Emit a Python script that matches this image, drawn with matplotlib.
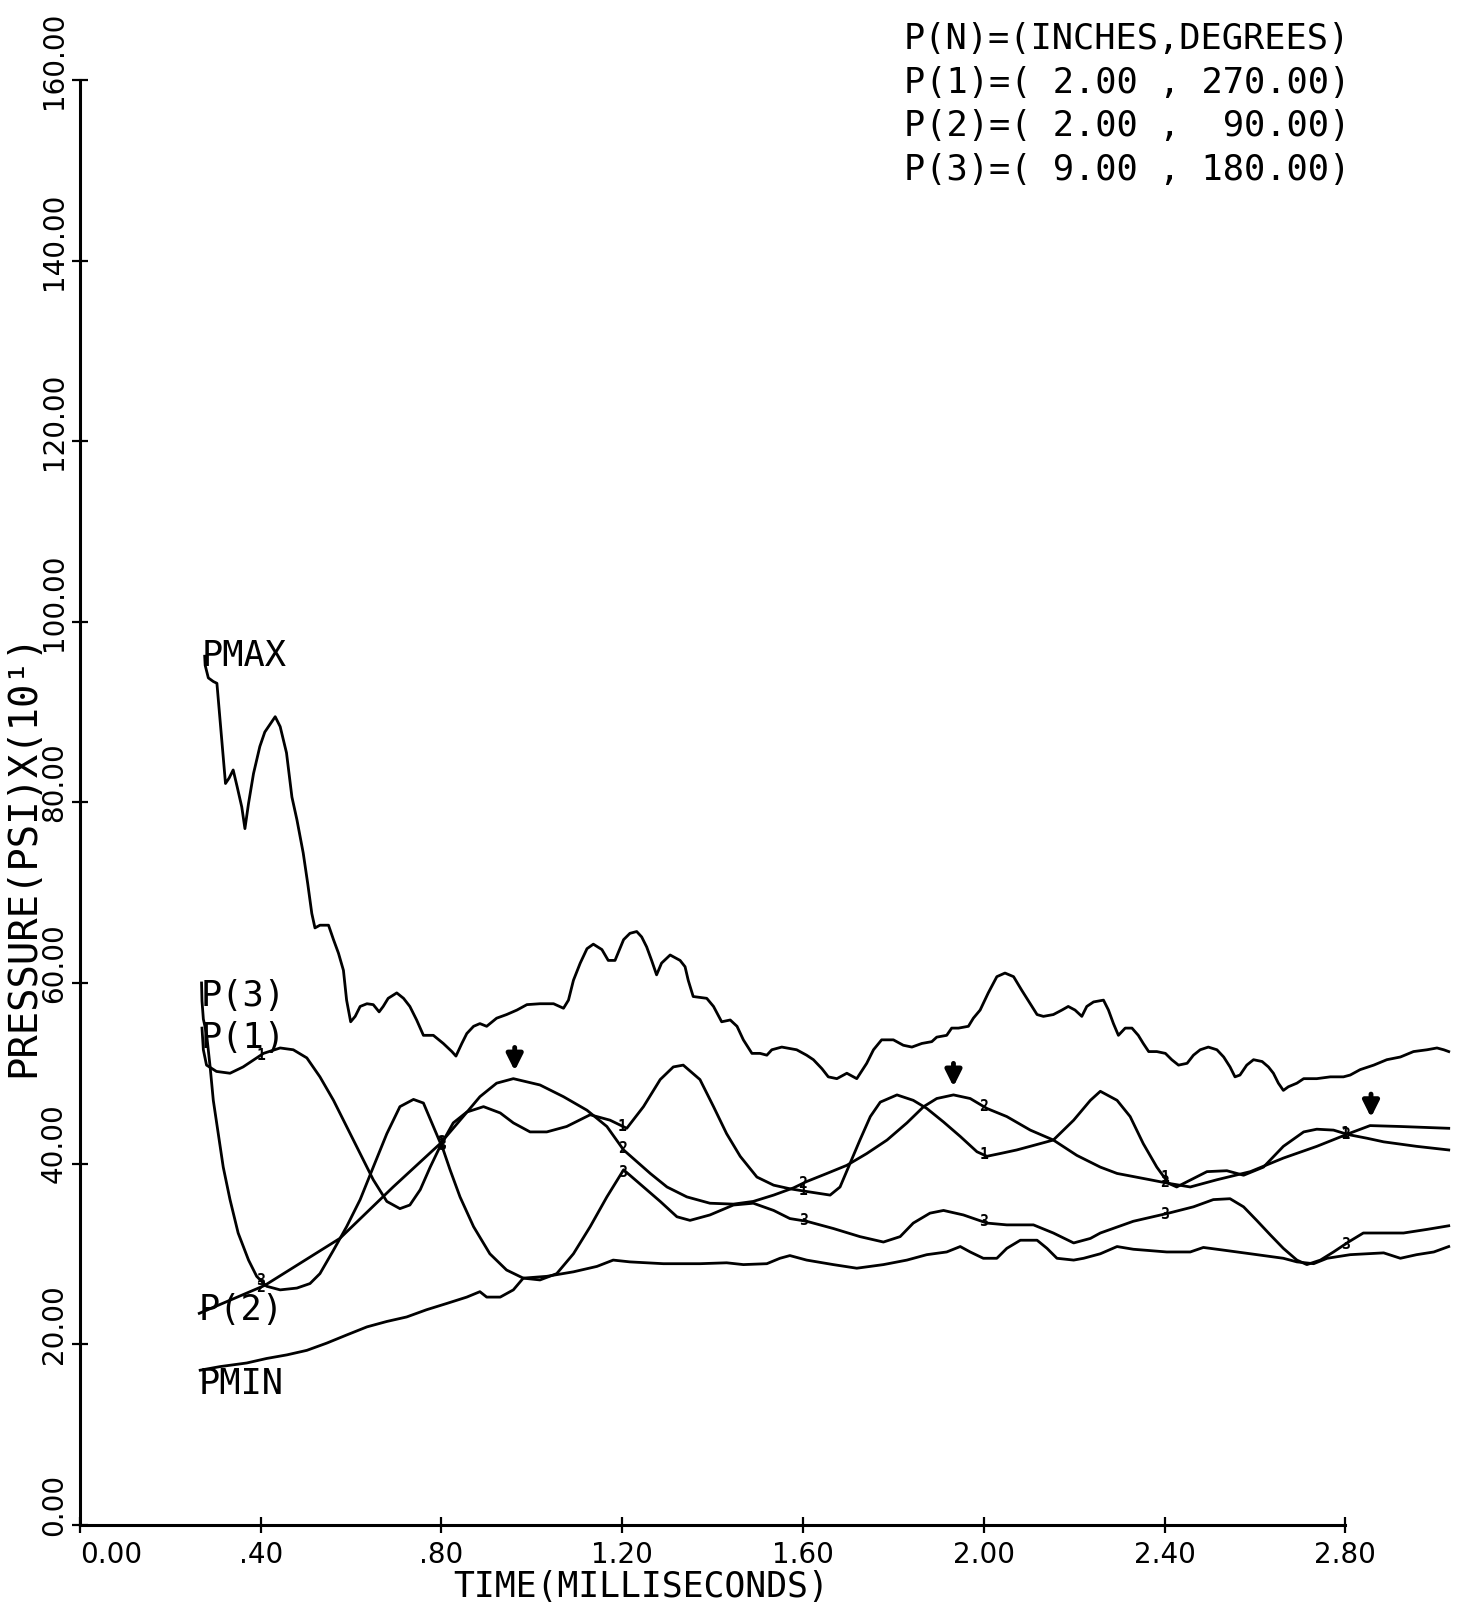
import numpy as np
import matplotlib
matplotlib.use("Agg")
import matplotlib.pyplot as plt
import matplotlib.transforms as mtransforms

# pressure histories, time in milliseconds, pressure in psi
pmax_t = [0.276, 0.277, 0.284, 0.295, 0.303, 0.317, 0.322, 0.330, 0.339, 0.348,
          0.358, 0.365, 0.373, 0.384, 0.398, 0.409, 0.432, 0.443, 0.457, 0.469,
          0.480, 0.494, 0.504, 0.513, 0.520, 0.531, 0.550, 0.561, 0.572, 0.583,
          0.590, 0.599, 0.609, 0.620, 0.635, 0.649, 0.662, 0.671, 0.682, 0.701,
          0.716, 0.730, 0.745, 0.760, 0.782, 0.804, 0.823, 0.832, 0.845, 0.856,
          0.871, 0.885, 0.900, 0.922, 0.944, 0.967, 0.989, 1.018, 1.048, 1.070,
          1.081, 1.092, 1.107, 1.122, 1.136, 1.155, 1.169, 1.184, 1.203, 1.217,
          1.232, 1.243, 1.254, 1.265, 1.276, 1.287, 1.306, 1.328, 1.339, 1.346,
          1.357, 1.387, 1.402, 1.420, 1.439, 1.454, 1.468, 1.487, 1.505, 1.520,
          1.531, 1.553, 1.586, 1.608, 1.623, 1.642, 1.656, 1.675, 1.697, 1.719,
          1.741, 1.756, 1.774, 1.800, 1.822, 1.841, 1.863, 1.885, 1.896, 1.918,
          1.929, 1.944, 1.966, 1.977, 1.992, 2.010, 2.029, 2.047, 2.066, 2.084,
          2.103, 2.118, 2.132, 2.154, 2.173, 2.187, 2.202, 2.217, 2.228, 2.243,
          2.265, 2.276, 2.287, 2.298, 2.313, 2.328, 2.342, 2.353, 2.365, 2.383,
          2.402, 2.416, 2.431, 2.450, 2.464, 2.479, 2.497, 2.516, 2.531, 2.545,
          2.556, 2.567, 2.582, 2.597, 2.616, 2.630, 2.641, 2.652, 2.663, 2.674,
          2.693, 2.708, 2.737, 2.767, 2.796, 2.811, 2.833, 2.863, 2.892, 2.922,
          2.951, 2.981, 3.003, 3.018, 3.029]
pmax_p = [96.2, 95.2, 93.8, 93.4, 93.2, 85.1, 82.1, 82.7, 83.6, 81.7,
          79.5, 77.1, 79.9, 83.2, 86.2, 87.8, 89.5, 88.4, 85.5, 80.6,
          78.1, 74.4, 71.0, 67.7, 66.1, 66.4, 66.4, 64.8, 63.3, 61.4,
          58.1, 55.7, 56.3, 57.4, 57.7, 57.6, 56.8, 57.4, 58.3, 58.9,
          58.3, 57.4, 55.9, 54.2, 54.2, 53.3, 52.4, 51.9, 53.3, 54.4,
          55.2, 55.5, 55.2, 56.1, 56.5, 57.0, 57.6, 57.7, 57.7, 57.2,
          58.1, 60.3, 62.2, 63.8, 64.3, 63.7, 62.5, 62.5, 64.8, 65.5,
          65.7, 65.1, 64.0, 62.5, 60.9, 62.2, 63.1, 62.5, 61.8, 60.3,
          58.5, 58.3, 57.4, 55.7, 55.9, 55.2, 53.7, 52.2, 52.2, 52.0,
          52.6, 52.9, 52.6, 52.0, 51.5, 50.5, 49.6, 49.4, 50.0, 49.4,
          51.1, 52.6, 53.7, 53.7, 53.1, 52.9, 53.3, 53.5, 54.0, 54.2,
          55.0, 55.0, 55.2, 56.1, 57.0, 58.9, 60.7, 61.1, 60.7, 59.2,
          57.7, 56.5, 56.3, 56.5, 57.0, 57.4, 57.0, 56.3, 57.4, 57.9,
          58.1, 57.0, 55.5, 54.2, 55.0, 55.0, 54.2, 53.3, 52.4, 52.4,
          52.2, 51.5, 50.9, 51.1, 52.0, 52.6, 52.9, 52.6, 51.8, 50.7,
          49.6, 49.8, 50.9, 51.5, 51.3, 50.7, 50.0, 48.9, 48.1, 48.5,
          48.9, 49.4, 49.4, 49.6, 49.6, 49.8, 50.4, 50.9, 51.5, 51.8,
          52.4, 52.6, 52.8, 52.6, 52.4]

p1_t = [0.270, 0.273, 0.280, 0.302, 0.332, 0.361, 0.406, 0.443, 0.472, 0.502,
        0.531, 0.561, 0.590, 0.620, 0.649, 0.679, 0.708, 0.730, 0.753, 0.775,
        0.797, 0.826, 0.856, 0.893, 0.930, 0.959, 0.996, 1.033, 1.077, 1.129,
        1.173, 1.210, 1.247, 1.284, 1.313, 1.335, 1.372, 1.402, 1.431, 1.461,
        1.498, 1.535, 1.571, 1.608, 1.660, 1.682, 1.704, 1.726, 1.749, 1.771,
        1.808, 1.844, 1.874, 1.911, 1.948, 1.985, 2.007, 2.036, 2.073, 2.110,
        2.154, 2.199, 2.236, 2.258, 2.295, 2.324, 2.353, 2.383, 2.409, 2.427,
        2.494, 2.538, 2.575, 2.619, 2.663, 2.708, 2.737, 2.774, 2.807, 2.848,
        2.885, 2.958, 3.029]
p1_p = [55.0, 52.6, 50.9, 50.2, 50.0, 50.7, 52.2, 52.8, 52.6, 51.7,
        49.6, 47.0, 44.1, 41.1, 38.2, 35.8, 35.0, 35.4, 37.1, 39.6,
        41.9, 44.5, 45.7, 46.3, 45.6, 44.5, 43.5, 43.5, 44.1, 45.4,
        44.8, 43.9, 46.3, 49.3, 50.7, 50.9, 49.3, 46.3, 43.3, 40.8,
        38.5, 37.6, 37.2, 36.9, 36.5, 37.4, 40.0, 42.6, 45.2, 46.8,
        47.6, 47.0, 46.1, 44.6, 43.0, 41.3, 40.8, 41.1, 41.5, 42.0,
        42.6, 44.8, 47.0, 48.0, 47.0, 45.2, 42.2, 39.6, 37.8, 37.4,
        39.1, 39.2, 38.7, 39.6, 41.9, 43.5, 43.8, 43.7, 43.2, 42.8,
        42.4, 41.9, 41.5]

p2_t = [0.264, 0.409, 0.575, 0.693, 0.797, 0.848, 0.885, 0.922, 0.959, 1.018,
        1.070, 1.122, 1.166, 1.203, 1.262, 1.299, 1.343, 1.394, 1.446, 1.490,
        1.535, 1.579, 1.608, 1.653, 1.697, 1.741, 1.786, 1.830, 1.867, 1.896,
        1.933, 1.970, 2.007, 2.051, 2.103, 2.154, 2.206, 2.258, 2.295, 2.368,
        2.409, 2.457, 2.516, 2.590, 2.663, 2.737, 2.807, 2.855, 2.922, 3.029]
p2_p = [23.4, 26.5, 31.7, 37.4, 42.2, 45.2, 47.4, 48.9, 49.4, 48.7,
        47.4, 45.9, 44.1, 41.5, 38.9, 37.4, 36.3, 35.6, 35.5, 35.8,
        36.5, 37.3, 38.0, 38.9, 39.8, 41.1, 42.6, 44.5, 46.3, 47.2,
        47.6, 47.2, 46.1, 45.2, 43.7, 42.6, 40.9, 39.6, 38.9, 38.2,
        37.8, 37.4, 38.2, 39.1, 40.6, 41.9, 43.3, 44.2, 44.1, 43.9]

p3_t = [0.269, 0.270, 0.273, 0.280, 0.288, 0.295, 0.306, 0.317, 0.332, 0.350,
        0.373, 0.391, 0.413, 0.443, 0.480, 0.509, 0.531, 0.561, 0.590, 0.620,
        0.649, 0.679, 0.708, 0.738, 0.760, 0.782, 0.804, 0.819, 0.841, 0.871,
        0.907, 0.944, 0.981, 1.018, 1.055, 1.092, 1.129, 1.166, 1.203, 1.247,
        1.284, 1.321, 1.350, 1.394, 1.446, 1.490, 1.535, 1.571, 1.608, 1.667,
        1.726, 1.778, 1.815, 1.844, 1.881, 1.911, 1.955, 2.007, 2.051, 2.110,
        2.154, 2.199, 2.236, 2.258, 2.331, 2.409, 2.464, 2.508, 2.545, 2.575,
        2.604, 2.634, 2.663, 2.693, 2.715, 2.745, 2.774, 2.807, 2.840, 2.885,
        2.929, 2.981, 3.029]
p3_p = [60.0, 58.0, 56.0, 54.4, 50.7, 47.0, 43.3, 39.6, 36.0, 32.3,
        29.3, 27.5, 26.4, 26.0, 26.2, 26.7, 27.8, 30.4, 33.0, 36.0,
        39.6, 43.3, 46.3, 47.1, 46.7, 44.1, 41.5, 39.3, 36.3, 33.0,
        30.0, 28.2, 27.3, 27.1, 27.8, 30.0, 33.0, 36.3, 39.3, 37.4,
        35.8, 34.1, 33.7, 34.3, 35.4, 35.6, 34.8, 33.9, 33.6, 32.8,
        31.9, 31.3, 31.9, 33.4, 34.5, 34.8, 34.3, 33.4, 33.2, 33.2,
        32.3, 31.2, 31.7, 32.3, 33.6, 34.5, 35.2, 36.0, 36.1, 35.2,
        33.7, 32.1, 30.6, 29.3, 28.8, 29.3, 30.2, 31.3, 32.3, 32.3,
        32.3, 32.7, 33.1]

pmin_t = [0.266, 0.310, 0.369, 0.413, 0.458, 0.502, 0.546, 0.590, 0.635, 0.679,
          0.723, 0.767, 0.812, 0.856, 0.885, 0.900, 0.930, 0.959, 0.981, 1.033,
          1.092, 1.144, 1.180, 1.217, 1.291, 1.372, 1.431, 1.468, 1.520, 1.549,
          1.571, 1.608, 1.667, 1.719, 1.778, 1.830, 1.874, 1.918, 1.948, 1.970,
          1.999, 2.029, 2.051, 2.081, 2.118, 2.140, 2.162, 2.199, 2.221, 2.258,
          2.295, 2.331, 2.405, 2.457, 2.486, 2.531, 2.590, 2.663, 2.693, 2.730,
          2.760, 2.811, 2.848, 2.885, 2.922, 2.958, 2.996, 3.029]
pmin_p = [17.1, 17.5, 17.9, 18.4, 18.8, 19.3, 20.1, 21.0, 21.9, 22.5,
          23.0, 23.8, 24.5, 25.2, 25.8, 25.2, 25.2, 26.0, 27.3, 27.5,
          28.0, 28.6, 29.3, 29.1, 28.9, 28.9, 29.0, 28.8, 28.9, 29.5,
          29.8, 29.3, 28.8, 28.4, 28.8, 29.3, 29.9, 30.2, 30.8, 30.2,
          29.5, 29.5, 30.6, 31.5, 31.5, 30.6, 29.5, 29.3, 29.5, 30.0,
          30.8, 30.5, 30.2, 30.2, 30.7, 30.4, 30.0, 29.5, 29.1, 28.9,
          29.5, 29.9, 30.0, 30.1, 29.5, 29.9, 30.2, 30.8]

xticks = [0.0, 0.4, 0.8, 1.2, 1.6, 2.0, 2.4, 2.8]
xtick_labels = ["0.00", ".40", ".80", "1.20", "1.60", "2.00", "2.40", "2.80"]
yticks = [0, 20, 40, 60, 80, 100, 120, 140, 160]
ytick_labels = ["0.00", "20.00", "40.00", "60.00", "80.00",
                "100.00", "120.00", "140.00", "160.00"]

# gauge locations
legend_lines = ["P(N)=(INCHES,DEGREES)",
                "P(1)=( 2.00 , 270.00)",
                "P(2)=( 2.00 ,  90.00)",
                "P(3)=( 9.00 , 180.00)"]

# times of the arrows over the P(2) peaks
arrow_t = [0.962, 1.933, 2.857]

MONO = ["DejaVu Sans Mono"]
NARROW = ["Liberation Sans Narrow", "DejaVu Sans"]

fig = plt.figure(figsize=(14.65, 16.07), dpi=100)
ax = fig.add_axes([0.0546, 0.0513, 0.9454, 0.9487])
ax.set_xlim(0, 3.065)
ax.set_ylim(0, 168.9)

for s in ["top", "right"]:
    ax.spines[s].set_visible(False)
ax.spines["left"].set_bounds(0, 160)
ax.spines["bottom"].set_bounds(0, 2.8)
for s in ["left", "bottom"]:
    ax.spines[s].set_linewidth(2.2)

ax.set_xticks(xticks)
ax.set_xticklabels(xtick_labels, family=NARROW, fontsize=20)
ax.set_yticks(yticks)
ax.set_yticklabels(ytick_labels, family=NARROW, fontsize=20,
                   rotation=90, va="center")
ax.tick_params(direction="inout", length=11.5, width=1.6)
ax.tick_params(axis="x", pad=6)
ax.tick_params(axis="y", pad=3)
ax.get_xticklabels()[0].set_ha("left")

# y labels sit a little above their ticks
shift = mtransforms.ScaledTranslation(0, 0.2, fig.dpi_scale_trans)
for lab in ax.get_yticklabels():
    lab.set_transform(lab.get_transform() + shift)

ax.set_xlabel("TIME(MILLISECONDS)", family=MONO, fontsize=25, va="center")
ax.xaxis.set_label_coords(0.405, -0.041)
ax.set_ylabel("PRESSURE(PSI)X(10¹)", family=MONO, fontsize=28, va="center")
ax.yaxis.set_label_coords(-0.0412, 0.439)

curves = [(pmax_t, pmax_p), (p1_t, p1_p), (p2_t, p2_p),
          (p3_t, p3_p), (pmin_t, pmin_p)]
for t, p in curves:
    ax.plot(t, p, color="black", lw=2.0, solid_joinstyle="round")

# curve names at the start of each trace
ax.text(0.270, 95.1, "PMAX", family=MONO, fontsize=25.5)
ax.text(0.266, 57.5, "P(3)", family=MONO, fontsize=25.5)
ax.text(0.266, 52.8, "P(1)", family=MONO, fontsize=25.5)
ax.text(0.262, 22.7, "P(2)", family=MONO, fontsize=25.5)
ax.text(0.262, 14.5, "PMIN", family=MONO, fontsize=25.5)

# gauge numbers marked on the traces at each time tick
for num, (t, p) in zip(["1", "2", "3"], [(p1_t, p1_p), (p2_t, p2_p), (p3_t, p3_p)]):
    for tk in xticks[1:]:
        ax.text(tk, np.interp(tk, t, p), num, family=MONO, fontsize=10.5,
                fontweight="bold", ha="center", va="center")

for ta in arrow_t:
    tip = np.interp(ta, p2_t, p2_p) + 0.6
    ax.annotate("", xy=(ta, tip), xytext=(ta, tip + 3.2),
                arrowprops=dict(arrowstyle="-|>", color="black", lw=3.5,
                                mutation_scale=24))

for i, line in enumerate(legend_lines):
    fig.text(0.617, 0.9695 - i * 0.0272, line, family=MONO, fontsize=25.5)

fig.savefig("out.png", dpi=100, facecolor="white")
